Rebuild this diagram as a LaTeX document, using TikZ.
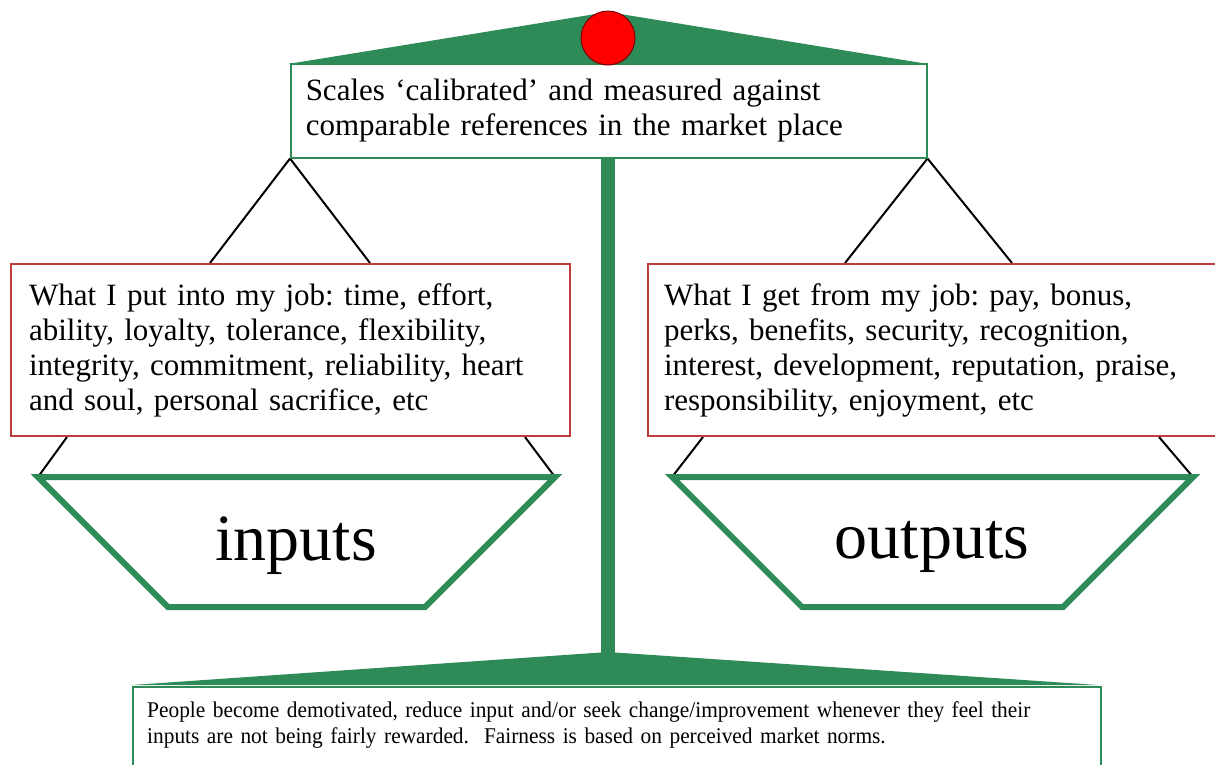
\documentclass[tikz,border=0pt]{standalone}
\usepackage{fontspec}
\setmainfont{Liberation Serif}
\newfontfamily\notefont[FakeStretch=0.95]{Liberation Serif}
\usetikzlibrary{calc}
\definecolor{scalegreen}{RGB}{46,139,87}
\definecolor{boxred}{RGB}{190,60,60}
\definecolor{balldark}{RGB}{120,0,0}
\pgfdeclarelayer{back}
\pgfsetlayers{back,main}
\frenchspacing
\begin{document}
\begin{tikzpicture}[x=1pt,y=-1pt,
  greenbox/.style={draw=scalegreen, line width=1.5pt, fill=white, inner ysep=0pt, inner xsep=15pt, align=left},
  redbox/.style={draw=boxred, line width=2pt, fill=white, inner xsep=18pt, inner ysep=0pt, align=left},
  bodytext/.style={font=\fontsize{31}{35}\selectfont},
  pan/.style={draw=scalegreen, line width=6pt, line join=miter},
  hang/.style={draw=black, line width=2pt},
  bigword/.style={font=\fontsize{66}{70}\selectfont, inner sep=0pt},
  beam/.style={fill=scalegreen}]
\useasboundingbox (0,0) rectangle (1215,764);
\clip (0,0) rectangle (1215,764);

% beam, pole and base
\fill[beam] (288,64) -- (608,12) -- (928,64) -- cycle;
\fill[beam] (601,150) rectangle (615,660);
\fill[beam] (132,685) -- (608,652) -- (1098,685) -- cycle;

% top box
\node[greenbox, bodytext, anchor=north west, minimum width=636, minimum height=94, text width=606pt] (top) at (290,63)
  {Scales ‘calibrated’ and measured against\\comparable references in the market place};

% pan corners
\coordinate (lpTL) at (38,477);
\coordinate (lpTR) at (555,477);
\coordinate (lpBR) at (425,607);
\coordinate (lpBL) at (168,607);
\coordinate (rpTL) at (672,477);
\coordinate (rpTR) at (1193,477);
\coordinate (rpBR) at (1063,607);
\coordinate (rpBL) at (802,607);

% boxes
\node[redbox, bodytext, anchor=north west, minimum width=559, minimum height=172, text width=523pt] (inbox) at (10,263)
  {What I put into my job: time, effort,\\ability, loyalty, tolerance, flexibility,\\integrity, commitment, reliability, heart\\and soul, personal sacrifice, etc};
\node[redbox, bodytext, anchor=north west, inner xsep=16pt, minimum width=580, minimum height=172, text width=548pt] (outbox) at (647,263)
  {What I get from my job: pay, bonus,\\perks, benefits, security, recognition,\\interest, development, reputation, praise,\\responsibility, enjoyment, etc};

% hanging strings (behind the boxes)
\begin{pgfonlayer}{back}
\draw[hang] (top.south west) -- ($(inbox.north west)+(200,0)$);
\draw[hang] (top.south west) -- ($(inbox.north west)+(360,0)$);
\draw[hang] (top.south east) -- ($(outbox.north west)+(198,0)$);
\draw[hang] (top.south east) -- ($(outbox.north west)+(365,0)$);
\draw[hang] ($(inbox.south west)+(57,0)$) -- (lpTL);
\draw[hang] ($(inbox.south east)+(-46,0)$) -- (lpTR);
\draw[hang] ($(outbox.south west)+(56,0)$) -- (rpTL);
\draw[hang] ($(outbox.south west)+(512,0)$) -- (rpTR);
\end{pgfonlayer}

% pans
\draw[pan] (lpTL) -- (lpTR) -- (lpBR) -- (lpBL) -- cycle;
\draw[pan] (rpTL) -- (rpTR) -- (rpBR) -- (rpBL) -- cycle;
\node[bigword, anchor=base] (inlabel) at (296,560) {inputs};
\node[bigword, anchor=base] (outlabel) at (932,558) {outputs};

% bottom note
\node[draw=scalegreen, line width=1.5pt, fill=white, anchor=north west, minimum width=968, minimum height=100] (note) at (132,686) {};
\node[anchor=base west, inner sep=0pt, text width=950pt, align=left, font=\notefont\fontsize{22.5}{26}\selectfont] (notetext) at (147,717)
  {People become demotivated, reduce input and/or seek change/improvement whenever they feel their\\inputs are not being fairly rewarded.\ \ Fairness is based on perceived market norms.};

% pivot ball
\node[circle, fill=red, draw=balldark, line width=1pt, minimum size=54, inner sep=0pt] (ball) at (608,38) {};
\end{tikzpicture}
\end{document}
